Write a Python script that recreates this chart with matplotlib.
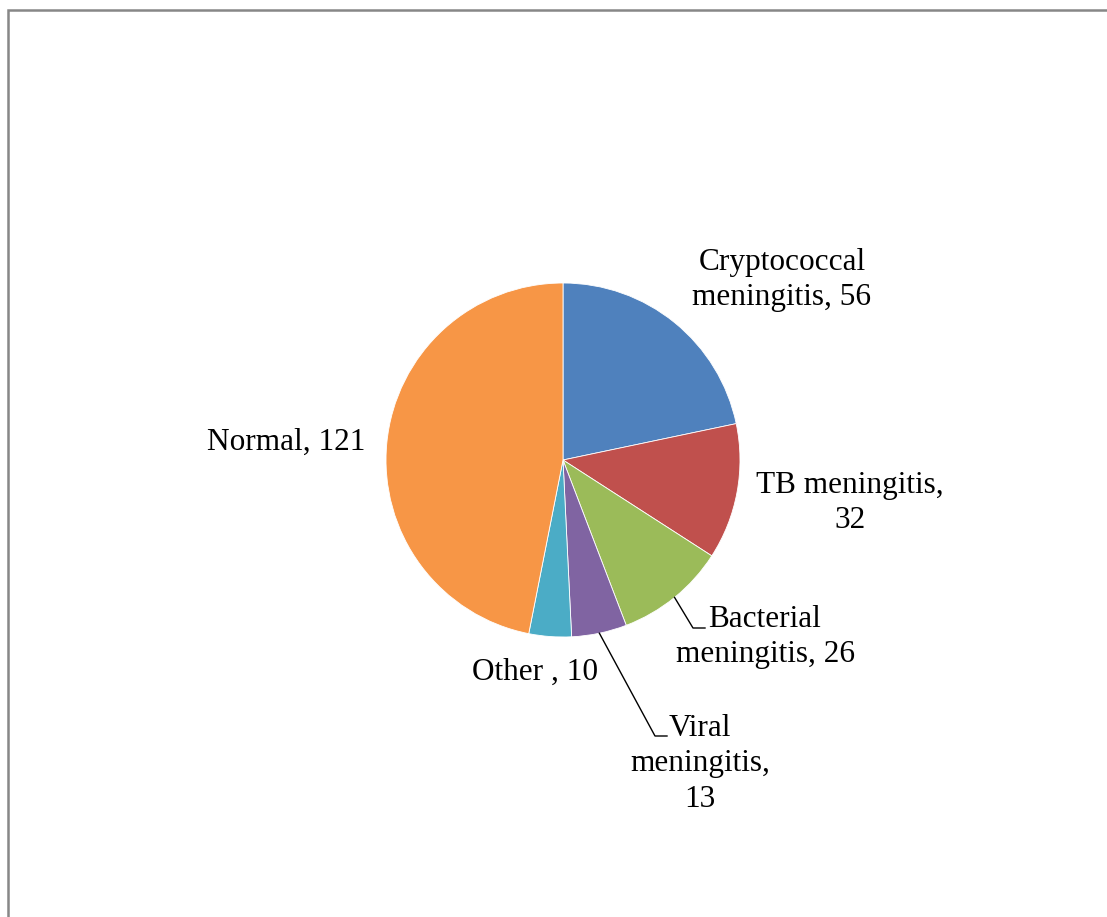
"""
Pie chart of CSF diagnoses.
"""

import numpy as np
import matplotlib
matplotlib.use("Agg")
import matplotlib.pyplot as plt
from matplotlib.patches import Rectangle

labels = ["Cryptococcal\nmeningitis, 56", "TB meningitis,\n32",
          "Bacterial\nmeningitis, 26", "Viral\nmeningitis,\n13",
          "Other , 10", "Normal, 121"]
values = [56, 32, 26, 13, 10, 121]
colors = ["#4F81BD", "#C0504D", "#9BBB59", "#8064A2", "#4BACC6", "#F79646"]

W, H = 1107, 917
plt.rcParams["font.family"] = ["Liberation Serif", "DejaVu Serif"]

fig = plt.figure(figsize=(W / 100, H / 100), dpi=100)
ax = fig.add_axes([0, 0, 1, 1])

cx, cy, r = 563, H - 460, 177
wedges, _ = ax.pie(values, colors=colors, startangle=90, counterclock=False,
                   center=(cx, cy), radius=r, frame=True,
                   wedgeprops=dict(edgecolor="white", linewidth=0.6))
ax.set_xlim(0, W)
ax.set_ylim(0, H)
ax.set_aspect("equal")
ax.axis("off")

# label positions (pixel coords, y from top)
label_pos = [(782, 280), (850, 503), (765, 637), (700, 764),
             (535, 672), (286, 442)]
for lab, (x, y) in zip(labels, label_pos):
    ax.text(x, H - y, lab, ha="center", va="center", fontsize=22.5,
            linespacing=1.3, color="black")

# leader lines for the small slices
total = sum(values)
cum = np.cumsum([0] + values)
elbows = {2: (693, 628, 705), 3: (655, 736, 667)}
for i, (ex, ey, hx) in elbows.items():
    mid = 90 - (cum[i] + values[i] / 2) / total * 360
    sx = cx + r * np.cos(np.radians(mid))
    sy = cy + r * np.sin(np.radians(mid))
    ax.plot([sx, ex, hx], [sy, H - ey, H - ey], color="black", lw=1.0)

# outer frame (cut off on right and bottom)
fig.patches.append(Rectangle((8 / W, -0.1), 1.2, 1 - 10 / H + 0.1,
                             transform=fig.transFigure, fill=False,
                             edgecolor="#878787", linewidth=1.8))

fig.savefig("out.png", dpi=100)
